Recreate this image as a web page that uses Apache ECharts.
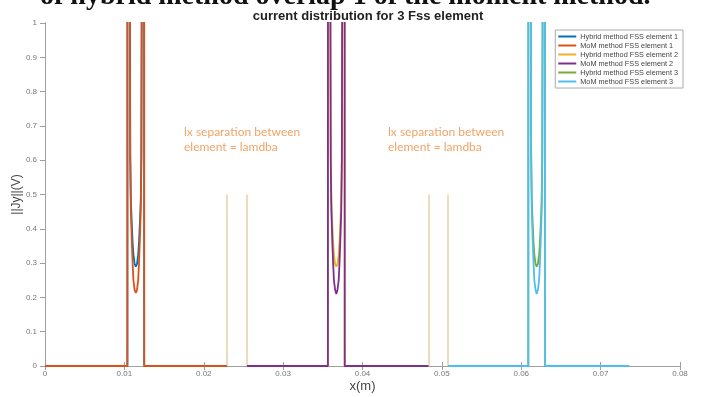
<!DOCTYPE html>
<html>
<head>
<meta charset="utf-8">
<script src="https://cdn.jsdelivr.net/npm/echarts@6/dist/echarts.min.js"></script>
<style>
html, body { margin: 0; padding: 0; background: #fff; }
#main { width: 705px; height: 397px; }
</style>
</head>
<body>
<div id="main"></div>
<script>
var seriesNames = [
    'Hybrid method FSS element 1',
    'MoM method FSS element 1',
    'Hybrid method FSS element 2',
    'MoM method FSS element 2',
    'Hybrid method FSS element 3',
    'MoM method FSS element 3'
];
var colors = ['#0072BD', '#D95319', '#EDB120', '#7E2F8E', '#77AC30', '#4DBEEE'];

// x positions (m), one list per element
var xElement1 = [0, 0.01038, 0.0104, 0.0107, 0.01074, 0.01082, 0.01094, 0.01104, 0.01114, 0.01129, 0.01144,
    0.01159, 0.01174, 0.01184, 0.01194, 0.01206, 0.01214, 0.01218, 0.01248, 0.0125, 0.0229];
var xElement2 = [0.02545, 0.03564, 0.03566, 0.03596, 0.036, 0.03608, 0.0362, 0.0363, 0.0364, 0.03655, 0.0367,
    0.03685, 0.037, 0.0371, 0.0372, 0.03732, 0.0374, 0.03744, 0.03774, 0.03776, 0.0483];
var xElement3 = [0.0508, 0.06089, 0.06091, 0.06121, 0.06125, 0.06133, 0.06145, 0.06155, 0.06165, 0.0618, 0.06195,
    0.0621, 0.06225, 0.06235, 0.06245, 0.06257, 0.06265, 0.06269, 0.06299, 0.06301, 0.0736];

// ||Jy|| values (edge peaks go off the top of the plot)
var hybrid1 = [0, 0, 3, 1.0, 0.62, 0.48, 0.41, 0.36, 0.325, 0.298, 0.29, 0.298, 0.325, 0.36, 0.41, 0.48, 0.62, 1.0, 3, 0, 0];
var mom1    = [0, 0, 3, 1.0, 0.6, 0.45, 0.36, 0.3, 0.25, 0.222, 0.213, 0.222, 0.25, 0.3, 0.36, 0.45, 0.6, 1.0, 3, 0, 0];
var hybrid2 = [0, 0, 3, 1.0, 0.62, 0.48, 0.41, 0.36, 0.325, 0.298, 0.29, 0.298, 0.325, 0.36, 0.41, 0.48, 0.62, 1.0, 3, 0, 0];
var mom2    = [0, 0, 3, 1.0, 0.6, 0.45, 0.36, 0.3, 0.25, 0.222, 0.21, 0.222, 0.25, 0.3, 0.36, 0.45, 0.6, 1.0, 3, 0, 0];
var hybrid3 = [0, 0, 3, 1.0, 0.62, 0.48, 0.41, 0.36, 0.325, 0.298, 0.29, 0.298, 0.325, 0.36, 0.41, 0.48, 0.62, 1.0, 3, 0, 0];
var mom3    = [0, 0, 3, 1.0, 0.6, 0.45, 0.36, 0.3, 0.25, 0.222, 0.21, 0.222, 0.25, 0.3, 0.36, 0.45, 0.6, 1.0, 3, 0, 0];

// separation marker lines
var separatorX = [0.0229, 0.02545, 0.0483, 0.0508];
var separatorHeight = 0.5;

function pairs(xs, ys) {
    return xs.map(function (x, i) { return [x, ys[i]]; });
}

var lineData = [
    pairs(xElement1, hybrid1),
    pairs(xElement1, mom1),
    pairs(xElement2, hybrid2),
    pairs(xElement2, mom2),
    pairs(xElement3, hybrid3),
    pairs(xElement3, mom3)
];

var myChart = echarts.init(document.getElementById('main'));

var axisColor = '#a0a0a0';
var labelColor = '#777';

var series = lineData.map(function (d, i) {
    return {
        name: seriesNames[i],
        type: 'line',
        data: d,
        symbol: 'none',
        clip: true,
        lineStyle: { color: colors[i], width: 1.8 },
        itemStyle: { color: colors[i] },
        z: 3
    };
});

series.push({
    type: 'lines',
    coordinateSystem: 'cartesian2d',
    silent: true,
    z: 2,
    lineStyle: { color: '#E8CFA9', width: 1.5, opacity: 1 },
    data: separatorX.map(function (x) {
        return { coords: [[x, 0], [x, separatorHeight]] };
    })
});

var option = {
    backgroundColor: '#fff',
    animation: false,
    color: colors,
    title: {
        text: 'current distribution for 3 Fss element',
        left: 363,
        textAlign: 'center',
        top: 5,
        textStyle: {
            color: '#222',
            fontFamily: 'Liberation Sans',
            fontWeight: 'bold',
            fontSize: 13
        }
    },
    grid: { left: 45, right: 25, top: 23, bottom: 31, outerBoundsMode: 'none', containLabel: false },
    legend: {
        data: seriesNames,
        orient: 'vertical',
        right: 22,
        top: 30,
        icon: 'rect',
        itemWidth: 18,
        itemHeight: 2,
        itemGap: 2,
        padding: [3, 5, 3, 3],
        backgroundColor: '#fff',
        borderColor: '#aaa',
        borderWidth: 1,
        borderRadius: 0,
        textStyle: { color: '#444', fontFamily: 'Liberation Sans', fontSize: 7.3, padding: [0, 0, 0, -1] }
    },
    xAxis: [{
        type: 'value',
        min: 0,
        max: 0.08,
        interval: 0.01,
        name: 'x(m)',
        nameLocation: 'middle',
        nameGap: 14,
        nameMoveOverlap: false,
        nameTextStyle: { color: '#444', fontFamily: 'Liberation Sans', fontSize: 13 },
        axisLine: { show: true, lineStyle: { color: axisColor } },
        axisTick: { inside: true, length: 4, lineStyle: { color: axisColor } },
        axisLabel: { color: labelColor, fontSize: 8, margin: 4, fontFamily: 'Liberation Sans' },
        splitLine: { show: false }
    }, {
        type: 'value',
        position: 'top',
        min: 0,
        max: 0.08,
        interval: 0.01,
        axisLine: { show: true, lineStyle: { color: axisColor } },
        axisTick: { inside: true, length: 4, lineStyle: { color: axisColor } },
        axisLabel: { show: false },
        splitLine: { show: false }
    }],
    yAxis: [{
        type: 'value',
        min: 0,
        max: 1,
        interval: 0.1,
        name: '||Jy||(V)',
        nameLocation: 'middle',
        nameGap: 22,
        nameMoveOverlap: false,
        nameTextStyle: { color: '#444', fontFamily: 'Liberation Sans', fontSize: 12 },
        axisLine: { show: true, lineStyle: { color: axisColor } },
        axisTick: { inside: false, length: 5, lineStyle: { color: axisColor } },
        axisLabel: { color: labelColor, fontSize: 8, margin: 8, fontFamily: 'Liberation Sans' },
        splitLine: { show: false }
    }, {
        type: 'value',
        position: 'right',
        min: 0,
        max: 1,
        interval: 0.1,
        axisLine: { show: true, lineStyle: { color: axisColor } },
        axisTick: { inside: true, length: 4, lineStyle: { color: axisColor } },
        axisLabel: { show: false },
        splitLine: { show: false }
    }],
    graphic: [{
        type: 'text',
        left: 40,
        top: -17,
        style: {
            text: 'of hybrid method overlap 1 of the moment method.',
            fill: '#111',
            font: 'bold 28px "Liberation Serif"'
        }
    }, {
        type: 'text',
        left: 184,
        top: 125,
        style: {
            text: 'lx separation between\nelement = lamdba',
            fill: '#F0A466',
            font: '12px Lato',
            lineHeight: 15
        }
    }, {
        type: 'text',
        left: 388,
        top: 125,
        style: {
            text: 'lx separation between\nelement = lamdba',
            fill: '#F0A466',
            font: '12px Lato',
            lineHeight: 15
        }
    }],
    series: series
};

myChart.setOption(option);
</script>
</body>
</html>
